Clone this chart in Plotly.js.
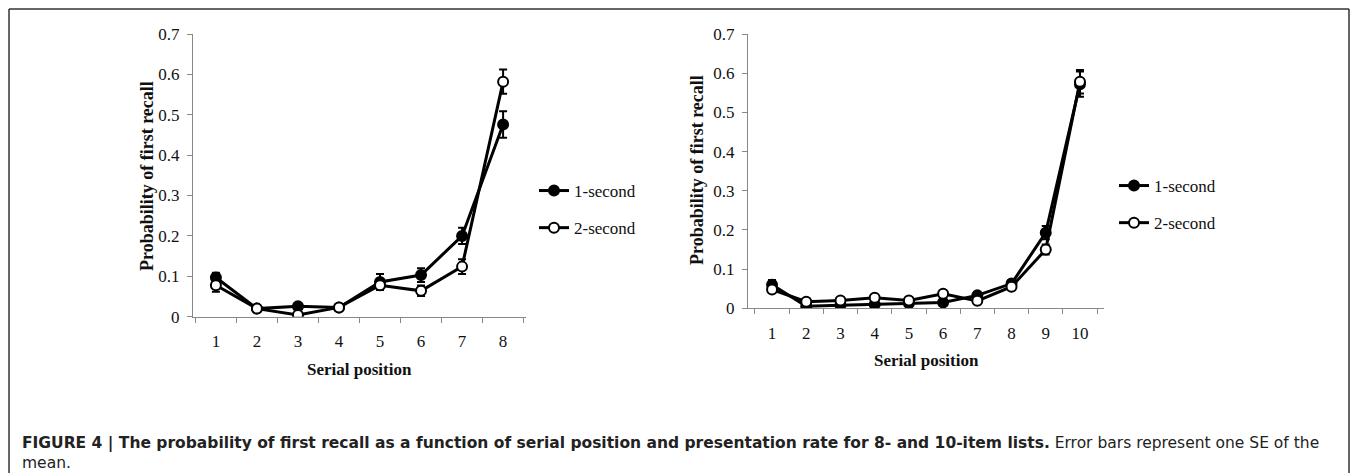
<!DOCTYPE html>
<html>
<head>
<meta charset="utf-8">
<script src="https://cdn.plot.ly/plotly-3.0.1.min.js"></script>
<style>
html,body{margin:0;padding:0;background:#fff;}
#chart{width:1352px;height:473px;}
</style>
</head>
<body>
<div id="chart"></div>
<script>
// ---- Data ----
const positions8 = ['1','2','3','4','5','6','7','8'];
const oneSec8 = [0.097, 0.020, 0.026, 0.023, 0.086, 0.103, 0.200, 0.476];
const oneSec8SE = [0.012, 0.004, 0.004, 0.004, 0.020, 0.017, 0.020, 0.033];
const twoSec8 = [0.078, 0.020, 0.004, 0.023, 0.078, 0.064, 0.124, 0.582];
const twoSec8SE = [0.016, 0.004, 0.004, 0.004, 0.008, 0.013, 0.018, 0.030];

const positions10 = ['1','2','3','4','5','6','7','8','9','10'];
const oneSec10 = [0.060, 0.005, 0.008, 0.010, 0.013, 0.015, 0.033, 0.063, 0.193, 0.572];
const oneSec10SE = [0.012, 0.003, 0.003, 0.003, 0.003, 0.003, 0.006, 0.008, 0.017, 0.032];
const twoSec10 = [0.048, 0.017, 0.020, 0.027, 0.020, 0.037, 0.019, 0.055, 0.150, 0.578];
const twoSec10SE = [0.006, 0.004, 0.004, 0.004, 0.004, 0.005, 0.004, 0.006, 0.013, 0.030];

const seriesNames = ['1-second', '2-second'];
const yTicks = [0, 0.1, 0.2, 0.3, 0.4, 0.5, 0.6, 0.7];
const yTickText = ['0', '0.1', '0.2', '0.3', '0.4', '0.5', '0.6', '0.7'];
const xTitle = 'Serial position';
const yTitle = 'Probability of first recall';
const captionBold = 'FIGURE 4 | The probability of first recall as a function of serial position and presentation rate for 8- and 10-item lists.';
const captionRest = ' Error bars represent one SE of the<br>mean.';

// ---- Layout helpers ----
const W = 1352, H = 473;
const px = v => v / W;
const py = v => 1 - v / H;
const serif = 'Liberation Serif, Times New Roman, serif';

function trace(x, y, se, name, filled, xa, ya, legend) {
  return {
    type: 'scatter', mode: 'lines+markers', x: x, y: y, name: name,
    xaxis: xa, yaxis: ya, legend: legend, legendgroup: legend + name,
    line: {color: '#000', width: 3},
    marker: {size: 10, color: filled ? '#000' : '#fff', line: {color: '#000', width: 2}},
    error_y: {type: 'data', array: se, visible: true, color: '#000', thickness: 2, width: 4},
    hoverinfo: 'x+y'
  };
}

const data = [
  trace(positions8, oneSec8, oneSec8SE, seriesNames[0], true, 'x', 'y', 'legend'),
  trace(positions8, twoSec8, twoSec8SE, seriesNames[1], false, 'x', 'y', 'legend'),
  trace(positions10, oneSec10, oneSec10SE, seriesNames[0], true, 'x2', 'y2', 'legend2'),
  trace(positions10, twoSec10, twoSec10SE, seriesNames[1], false, 'x2', 'y2', 'legend2')
];

function xAxis(domain, anchor) {
  return {
    domain: domain, anchor: anchor, type: 'category',
    tickson: 'boundaries', ticks: 'outside', ticklen: 5, tickcolor: '#888', tickwidth: 1,
    showline: true, linecolor: '#888', linewidth: 1, showgrid: false, zeroline: false,
    tickfont: {family: serif, size: 17, color: '#111'}, ticklabelstandoff: 9,
    fixedrange: true
  };
}
function yAxis(domain, anchor) {
  return {
    domain: domain, anchor: anchor, range: [0, 0.7],
    tickvals: yTicks, ticktext: yTickText,
    ticks: 'outside', ticklen: 5, tickcolor: '#888', tickwidth: 1,
    showline: true, linecolor: '#888', linewidth: 1, showgrid: false, zeroline: false,
    tickfont: {family: serif, size: 17, color: '#111'}, ticklabelstandoff: 4,
    fixedrange: true
  };
}

const legendBase = {
  orientation: 'v', xanchor: 'left', yanchor: 'top', bgcolor: 'rgba(0,0,0,0)',
  font: {family: serif, size: 17, color: '#111'}, traceorder: 'grouped',
  tracegroupgap: 12, itemwidth: 30
};

function title(text, x, y, angle, size) {
  return {
    xref: 'paper', yref: 'paper', x: px(x), y: py(y), xanchor: 'center', yanchor: 'middle',
    showarrow: false, textangle: angle, text: '<b>' + text + '</b>',
    font: {family: serif, size: size, color: '#111'}
  };
}

const layout = {
  width: W, height: H,
  margin: {l: 0, r: 0, t: 0, b: 0},
  paper_bgcolor: '#fff', plot_bgcolor: '#fff',
  showlegend: true,
  xaxis: xAxis([px(193), px(526)], 'y'),
  yaxis: yAxis([py(316.7), py(34)], 'x'),
  xaxis2: xAxis([px(748), px(1104)], 'y2'),
  yaxis2: yAxis([py(308.3), py(34)], 'x2'),
  legend: Object.assign({}, legendBase, {x: px(534), y: py(173)}),
  legend2: Object.assign({}, legendBase, {x: px(1114), y: py(168)}),
  annotations: [
    title(xTitle, 359, 369, 0, 17),
    title(yTitle, 147, 176, -90, 18),
    title(xTitle, 926, 360, 0, 17),
    title(yTitle, 697, 170, -90, 18),
    {
      xref: 'paper', yref: 'paper', x: px(20), y: py(432), xanchor: 'left', yanchor: 'top',
      align: 'left', showarrow: false,
      text: '<b>' + captionBold + '</b>' + captionRest,
      font: {family: 'DejaVu Sans, Arial, sans-serif', size: 15.5, color: '#222'}
    }
  ],
  shapes: [
    {type: 'line', xref: 'paper', yref: 'paper', x0: px(9), x1: px(1349), y0: py(9), y1: py(9), line: {color: '#333', width: 1.5}},
    {type: 'line', xref: 'paper', yref: 'paper', x0: px(9), x1: px(9), y0: py(9), y1: 0, line: {color: '#333', width: 1.5}},
    {type: 'line', xref: 'paper', yref: 'paper', x0: px(1349), x1: px(1349), y0: py(9), y1: 0, line: {color: '#333', width: 1.5}}
  ]
};

Plotly.newPlot('chart', data, layout, {displayModeBar: false, staticPlot: true});
</script>
</body>
</html>
